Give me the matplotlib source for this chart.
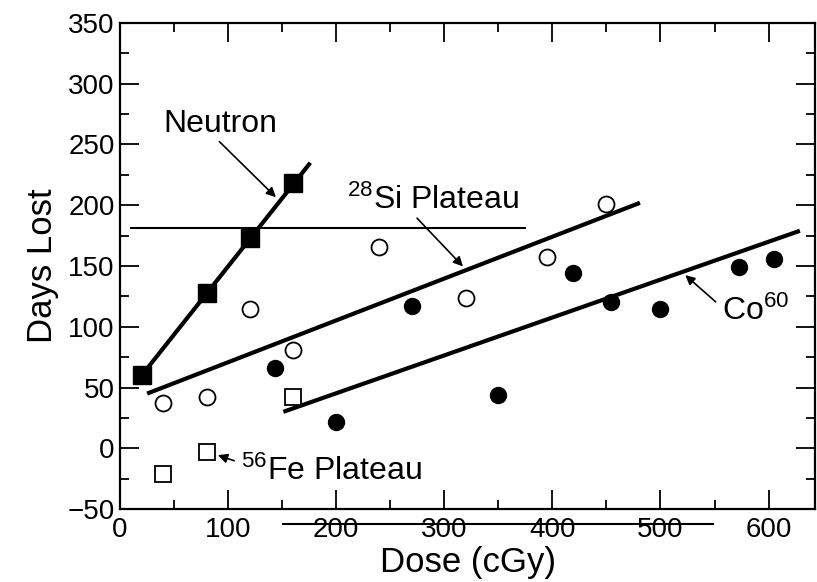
import matplotlib
matplotlib.use('agg')
import matplotlib.pyplot as plt
from matplotlib.ticker import MultipleLocator

plt.rcParams['font.family'] = ['Liberation Sans', 'DejaVu Sans']
plt.rcParams['mathtext.fontset'] = 'custom'
plt.rcParams['mathtext.rm'] = 'Liberation Sans'
plt.rcParams['mathtext.it'] = 'Liberation Sans'

# neutron (filled squares)
neutron_dose = [20, 80, 120, 160]
neutron_days = [60, 128, 173, 218]

# 28Si (open circles)
si_dose = [40, 80, 120, 160, 240, 320, 395, 450]
si_days = [37, 42, 115, 81, 166, 124, 157, 201]

# Co60 (filled circles)
co_dose = [143, 200, 270, 350, 419, 454, 500, 573, 605]
co_days = [66, 22, 117, 44, 144, 120, 115, 149, 156]

# 56Fe (open squares)
fe_dose = [40, 80, 160]
fe_days = [-21, -3, 42]

# fitted lines (end points)
neutron_fit_x = [20, 176]
neutron_fit_y = [60, 235]
si_fit_x = [25, 481]
si_fit_y = [45, 202]
co_fit_x = [151, 629]
co_fit_y = [30, 179]
si_plateau_x = [10, 375]
si_plateau_y = [181, 181]
fe_plateau_x = [151, 549]
fe_plateau_y = [-62, -62]

fig = plt.figure(figsize=(8.17, 5.82), dpi=100)
ax = fig.add_axes([0.147, 0.1254, 0.8506, 0.8351])

ax.plot(neutron_fit_x, neutron_fit_y, color='black', lw=3, solid_capstyle='butt')
ax.plot(si_fit_x, si_fit_y, color='black', lw=3, solid_capstyle='butt')
ax.plot(co_fit_x, co_fit_y, color='black', lw=3, solid_capstyle='butt')
ax.plot(si_plateau_x, si_plateau_y, color='black', lw=1.5)
# the 56Fe plateau line runs below the frame, through the tick labels
ax.plot(fe_plateau_x, fe_plateau_y, color='black', lw=1.5, clip_on=False)

ax.plot(neutron_dose, neutron_days, 's', color='black', ms=13.5, ls='none')
ax.plot(si_dose, si_days, 'o', mfc='white', mec='black', mew=1.3, ms=11.5, ls='none')
ax.plot(co_dose, co_days, 'o', color='black', ms=11.5, ls='none')
ax.plot(fe_dose, fe_days, 's', mfc='white', mec='black', mew=1.3, ms=12, ls='none')

arrow = dict(arrowstyle='-|>', color='black', lw=1.2, mutation_scale=14)
ax.text(40, 267, 'Neutron', fontsize=23, va='center', ha='left')
ax.annotate('', xy=(146, 205), xytext=(90, 254), arrowprops=arrow)
ax.text(210, 204, r'$^{28}$Si Plateau', fontsize=23, va='center', ha='left')
ax.annotate('', xy=(319, 148), xytext=(273, 191), arrowprops=arrow)
ax.text(557, 113, r'Co$^{60}$', fontsize=23, va='center', ha='left')
ax.annotate('', xy=(521, 144), xytext=(553, 119), arrowprops=arrow)
ax.text(112, -19, r'$^{56}$Fe Plateau', fontsize=23, va='center', ha='left')
ax.annotate('', xy=(88, -5), xytext=(108, -11), arrowprops=arrow)

ax.set_xlim(0, 643)
ax.set_ylim(-50, 350)
ax.xaxis.set_major_locator(MultipleLocator(100))
ax.xaxis.set_minor_locator(MultipleLocator(50))
ax.yaxis.set_major_locator(MultipleLocator(50))
ax.yaxis.set_minor_locator(MultipleLocator(25))
ax.tick_params(which='both', direction='in', top=True, right=True, width=1.3)
ax.tick_params(which='major', length=14, labelsize=20)
ax.tick_params(which='minor', length=6.5)
ax.tick_params(axis='x', pad=6)
ax.tick_params(axis='y', pad=4)
for s in ax.spines.values():
    s.set_linewidth(1.6)

ax.set_xlabel('Dose (cGy)', fontsize=25, labelpad=2)
ax.set_ylabel('Days Lost', fontsize=25, labelpad=6)

plt.savefig('out.png', dpi=100)
